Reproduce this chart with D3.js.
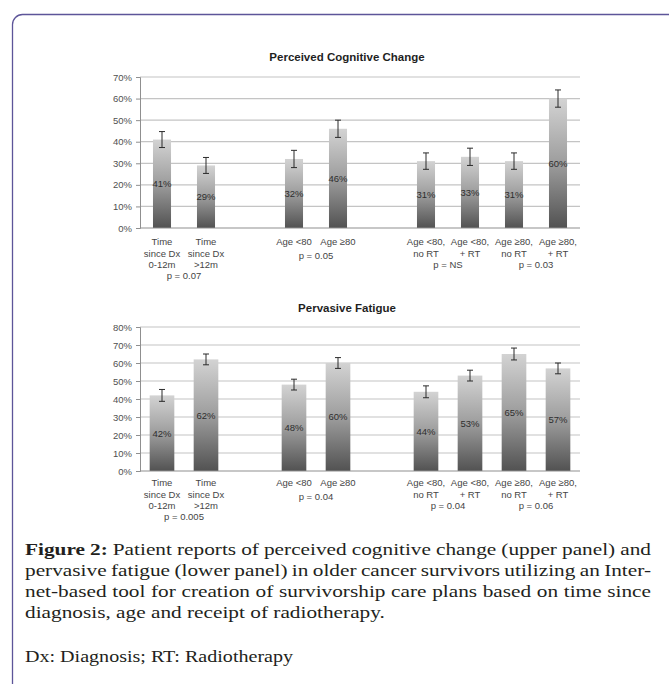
<!DOCTYPE html>
<html>
<head>
<meta charset="utf-8">
<script src="https://cdnjs.cloudflare.com/ajax/libs/d3/7.8.5/d3.min.js"></script>
<style>
  body { margin: 0; background: #fff; }
  svg { display: block; }
</style>
</head>
<body>
<div id="chart"></div>
<script>
// categories (blank slots separate the three groups)
const slots = ["Time0", "Time1", "gap1", "Age0", "Age1", "gap2", "RT0", "RT1", "RT2", "RT3"];
const categories = ["Time0", "Time1", "Age0", "Age1", "RT0", "RT1", "RT2", "RT3"];
const categoryLabels = [
  ["Time", "since Dx", "0-12m"], ["Time", "since Dx", ">12m"],
  ["Age <80"], ["Age \u226580"],
  ["Age <80,", "no RT"], ["Age <80,", "+ RT"], ["Age \u226580,", "no RT"], ["Age \u226580,", "+ RT"]
];

// Perceived cognitive change (%), with error half-widths
const cognitiveValues = [41, 29, 32, 46, 31, 33, 31, 60];
const cognitiveErrors = [3.7, 3.7, 4, 4, 3.8, 4, 3.8, 4];
const cognitiveP = ["p = 0.07", "p = 0.05", "p = NS", "p = 0.03"];

// Pervasive fatigue (%)
const fatigueValues = [42, 62, 48, 60, 44, 53, 65, 57];
const fatigueErrors = [3.3, 3, 3, 3, 3.3, 3, 3.3, 3];
const fatigueP = ["p = 0.005", "p = 0.04", "p = 0.04", "p = 0.06"];

// which pair of bars each p-value sits under
const pPairs = [[0, 1], [2, 3], [4, 5], [6, 7]];

const cognitiveTicks = d3.range(0, 71, 10);
const fatigueTicks = d3.range(0, 81, 10);

const captionLines = [
  "Patient reports of perceived cognitive change (upper panel) and",
  "pervasive fatigue (lower panel) in older cancer survivors utilizing an Inter-",
  "net-based tool for creation of survivorship care plans based on time since",
  "diagnosis, age and receipt of radiotherapy."
];
const footnote = "Dx: Diagnosis; RT: Radiotherapy";

const width = 669, height = 684;
const font = "'Liberation Sans', Arial, sans-serif";

const svg = d3.select("#chart").append("svg")
    .attr("width", width)
    .attr("height", height);

const defs = svg.append("defs");
const grad = defs.append("linearGradient")
    .attr("id", "barGrad")
    .attr("x1", 0).attr("y1", 0).attr("x2", 0).attr("y2", 1);
grad.append("stop").attr("offset", "0%").attr("stop-color", "#d3d3d3");
grad.append("stop").attr("offset", "50%").attr("stop-color", "#9d9d9d");
grad.append("stop").attr("offset", "100%").attr("stop-color", "#525252");

// frame
svg.append("rect")
    .attr("x", 12.5).attr("y", 14.5)
    .attr("width", 668).attr("height", 680)
    .attr("rx", 10)
    .attr("fill", "none")
    .attr("stroke", "#5d5599")
    .attr("stroke-width", 1.3);

function drawPanel(opt) {
  const x = d3.scaleBand()
      .domain(slots)
      .range([140, 580])
      .paddingInner(opt.pad)
      .paddingOuter(opt.pad / 2);

  const y = d3.scaleLinear()
      .domain([0, d3.max(opt.ticks)])
      .range([opt.bottom, opt.top]);

  const g = svg.append("g");

  // title
  g.append("text")
      .attr("x", 347).attr("y", opt.titleY)
      .attr("text-anchor", "middle")
      .attr("font-family", font)
      .attr("font-weight", "bold")
      .attr("font-size", 11.5)
      .attr("fill", "#1f1f1f")
      .text(opt.title);

  // gridlines
  g.append("g")
    .selectAll("line")
    .data(opt.ticks.filter(t => t > 0))
    .enter().append("line")
      .attr("x1", 140).attr("x2", 580)
      .attr("y1", d => y(d)).attr("y2", d => y(d))
      .attr("stroke", "#c4c4c4")
      .attr("stroke-width", 1.2);

  // y axis
  const yAxis = g.append("g")
      .attr("transform", "translate(140,0)")
      .call(d3.axisLeft(y).tickValues(opt.ticks).tickFormat(d => d + "%").tickSize(4).tickPadding(4));
  yAxis.select(".domain").attr("stroke", "#8f8f8f");
  yAxis.selectAll(".tick line").attr("stroke", "#8f8f8f");
  yAxis.selectAll(".tick text")
      .attr("font-family", font)
      .attr("font-size", 9.5)
      .attr("fill", "#505050");

  // bars
  g.append("g")
    .selectAll("rect")
    .data(opt.values)
    .enter().append("rect")
      .attr("x", (d, i) => x(categories[i]))
      .attr("y", d => y(d))
      .attr("width", x.bandwidth())
      .attr("height", d => opt.bottom - y(d))
      .attr("fill", "url(#barGrad)");

  // x axis baseline
  g.append("line")
      .attr("x1", 140).attr("x2", 580)
      .attr("y1", opt.bottom).attr("y2", opt.bottom)
      .attr("stroke", "#8f8f8f");

  // error bars
  const cx = i => x(categories[i]) + x.bandwidth() / 2;
  const eb = g.append("g")
    .selectAll("g")
    .data(opt.values)
    .enter().append("g")
      .attr("stroke", "#2b2b2b")
      .attr("stroke-width", 1);
  eb.append("line")
      .attr("x1", (d, i) => cx(i)).attr("x2", (d, i) => cx(i))
      .attr("y1", (d, i) => y(d + opt.errors[i]))
      .attr("y2", (d, i) => y(d - opt.errors[i]));
  eb.append("line")
      .attr("x1", (d, i) => cx(i) - 3).attr("x2", (d, i) => cx(i) + 3)
      .attr("y1", (d, i) => y(d + opt.errors[i]))
      .attr("y2", (d, i) => y(d + opt.errors[i]));
  eb.append("line")
      .attr("x1", (d, i) => cx(i) - 3).attr("x2", (d, i) => cx(i) + 3)
      .attr("y1", (d, i) => y(d - opt.errors[i]))
      .attr("y2", (d, i) => y(d - opt.errors[i]));

  // value labels in the middle of each bar
  g.append("g")
    .selectAll("text")
    .data(opt.values)
    .enter().append("text")
      .attr("x", (d, i) => cx(i))
      .attr("y", d => y(d / 2))
      .attr("dy", "0.35em")
      .attr("text-anchor", "middle")
      .attr("font-family", font)
      .attr("font-size", 9.5)
      .attr("fill", "#2e2e2e")
      .text(d => d + "%");

  // category labels, one text per line
  const firstLine = opt.bottom + opt.labelGap;
  const lines = [];
  categoryLabels.forEach((ls, i) => ls.forEach((l, j) => lines.push({ l, i, j })));
  g.append("g")
    .selectAll("text")
    .data(lines)
    .enter().append("text")
      .attr("x", d => cx(d.i))
      .attr("y", d => firstLine + d.j * opt.lineStep)
      .attr("dy", "0.35em")
      .attr("text-anchor", "middle")
      .attr("font-family", font)
      .attr("font-size", 9.5)
      .attr("fill", "#454545")
      .text(d => d.l);

  // p-values
  g.append("g")
    .selectAll("text")
    .data(opt.pvals)
    .enter().append("text")
      .attr("x", (d, k) => (cx(pPairs[k][0]) + cx(pPairs[k][1])) / 2)
      .attr("y", (d, k) => {
        const n = categoryLabels[pPairs[k][0]].length;
        return firstLine + (n - 1) * opt.lineStep + 11 + (n === 1 ? 3 : 0);
      })
      .attr("dy", "0.35em")
      .attr("text-anchor", "middle")
      .attr("font-family", font)
      .attr("font-size", 9.5)
      .attr("fill", "#454545")
      .text(d => d);
}

drawPanel({
  title: "Perceived Cognitive Change", titleY: 61,
  values: cognitiveValues, errors: cognitiveErrors, pvals: cognitiveP,
  ticks: cognitiveTicks, top: 77, bottom: 228, pad: 0.59,
  labelGap: 14, lineStep: 11.3
});

drawPanel({
  title: "Pervasive Fatigue", titleY: 312,
  values: fatigueValues, errors: fatigueErrors, pvals: fatigueP,
  ticks: fatigueTicks, top: 327, bottom: 471, pad: 0.44,
  labelGap: 12, lineStep: 11.5
});

// caption: glyphs slightly widened, full lines justified
const capLeft = 25, capRight = 651, lastLineRight = 385;
const serif = "'Liberation Serif', 'Times New Roman', serif";
const cap = svg.append("g")
    .attr("font-family", serif)
    .attr("font-size", 17.5)
    .attr("fill", "#231f20");

// measure the last (unjustified) line to get the horizontal stretch
const probe = cap.append("text").text(captionLines[3]);
const stretch = (lastLineRight - capLeft) / probe.node().getComputedTextLength();
probe.remove();

captionLines.forEach((line, i) => {
  const t = cap.append("text")
      .attr("transform", `translate(${capLeft},${555 + i * 21}) scale(${stretch},1)`);
  if (i === 0) {
    t.append("tspan").attr("font-weight", "bold").text("Figure 2:");
    t.append("tspan").text(" " + line);
  } else {
    t.text(line);
  }
  if (i < captionLines.length - 1) {
    const full = (i === 0 ? "Figure 2: " : "") + line;
    const spaces = full.split(" ").length - 1;
    const len = t.node().getComputedTextLength();
    t.attr("word-spacing", ((capRight - capLeft) / stretch - len) / spaces);
  }
});

cap.append("text")
    .attr("transform", `translate(${capLeft},662) scale(${stretch},1)`)
    .attr("font-size", 16.5)
    .text(footnote);
</script>
</body>
</html>
